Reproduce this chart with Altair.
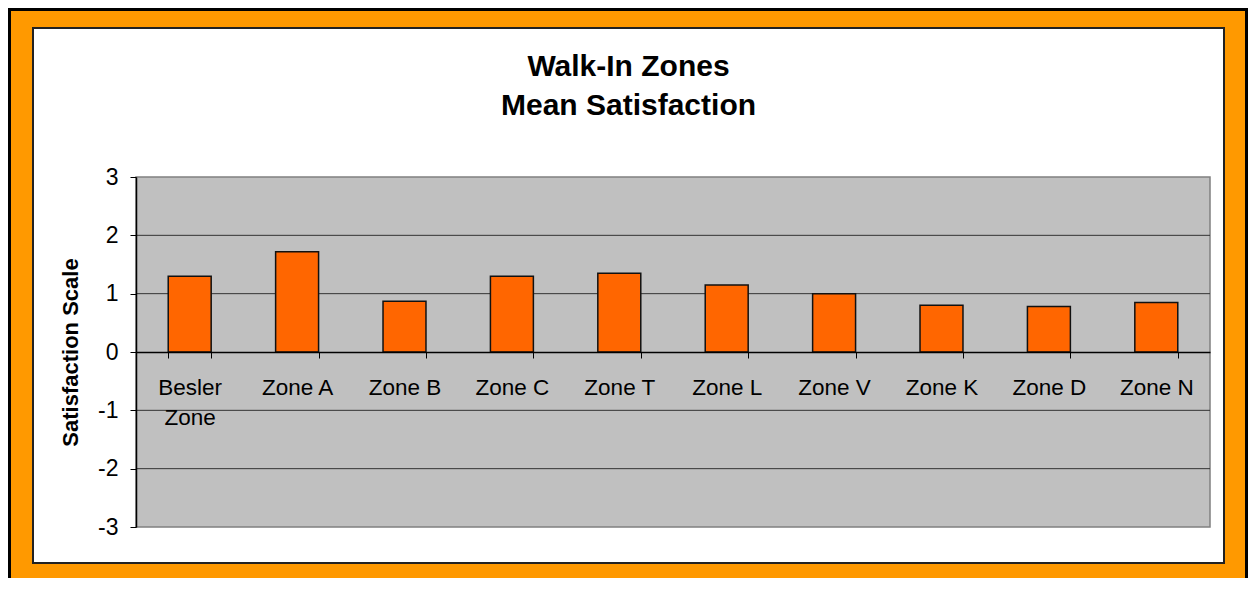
import altair as alt
import pandas as pd

categories = ["Besler Zone", "Zone A", "Zone B", "Zone C", "Zone T",
              "Zone L", "Zone V", "Zone K", "Zone D", "Zone N"]
values = [1.30, 1.72, 0.87, 1.30, 1.35, 1.15, 1.00, 0.80, 0.78, 0.85]
y_ticks = [-3, -2, -1, 0, 1, 2, 3]
grid_values = [-2, -1, 1, 2]
title_lines = ["Walk-In Zones", "Mean Satisfaction"]
y_title = "Satisfaction Scale"

FONT = "Liberation Sans"
W, H = 1074, 350

df = pd.DataFrame({"zone": categories, "score": values})
grid_df = pd.DataFrame({"score": grid_values})
one = alt.Data(values=[{}])

y_scale = alt.Scale(domain=[-3, 3], nice=False, zero=False)
x_scale = alt.Scale(domain=categories, paddingInner=0.6, paddingOuter=0.3)

y_axis = alt.Axis(values=y_ticks, labelExpr="'' + datum.value", zindex=1, grid=False,
                  domainColor="#000000", domainWidth=1.5, tickColor="#000000",
                  tickSize=6, labelFont=FONT, labelFontSize=23, labelColor="#000000",
                  labelPadding=12, titleFont=FONT, titleFontSize=22,
                  titleFontWeight="bold", titleColor="#000000",
                  titleX=-66, titleY=H / 2, titleAlign="center",
                  titleBaseline="middle", titleAngle=270)

orange = alt.Chart(one).mark_rect(fill="#FF9900", strokeWidth=0).encode(
    x=alt.value(-125), x2=alt.value(1109), y=alt.value(-166), y2=alt.value(440))

panel = alt.Chart(one).mark_rect(fill="#FFFFFF", stroke="#222222", strokeWidth=2).encode(
    x=alt.value(-103), x2=alt.value(1088), y=alt.value(-149), y2=alt.value(386))

plotbg = alt.Chart(one).mark_rect(fill="#C0C0C0", stroke="#808080", strokeWidth=1.5).encode(
    x=alt.value(0), x2=alt.value("width"), y=alt.value(0), y2=alt.value("height"))

grid = alt.Chart(grid_df).mark_rule(color="#333333", strokeWidth=1).encode(
    y=alt.Y("score:Q", scale=y_scale, title=y_title, axis=y_axis),
    x=alt.value(0), x2=alt.value("width"))

bars = alt.Chart(df).mark_bar(fill="#FF6600", stroke="#111111", strokeWidth=1.5).encode(
    x=alt.X("zone:N", sort=categories, scale=x_scale, title=None,
            axis=alt.Axis(orient="bottom", offset=-H / 2, zindex=1, domainColor="#000000",
                          domainWidth=1.5, tickColor="#000000", tickSize=6, tickBand="extent",
                          labelAngle=0, labelFont=FONT, labelFontSize=22.5, labelColor="#000000",
                          labelPadding=18, labelLineHeight=30, labelBaseline="top",
                          labelExpr="datum.label == 'Besler Zone' ? ['Besler', 'Zone'] : datum.label",
                          grid=False)),
    y=alt.Y("score:Q", scale=y_scale, title=y_title, axis=y_axis),
)

title = alt.Chart(one).mark_text(
    text=title_lines, font=FONT, fontSize=30, fontWeight="bold", color="#000000",
    lineHeight=39, align="center", baseline="middle").encode(
    x=alt.value(492.5), y=alt.value(-110))

chart = alt.layer(orange, panel, plotbg, grid, bars, title).properties(
    width=W, height=H, background="#000000", autosize="none",
    padding={"left": 128, "top": 169, "right": 38, "bottom": 51},
).configure_view(stroke=None)

chart.save("out.html", embed_options={"renderer": "svg", "actions": False})
